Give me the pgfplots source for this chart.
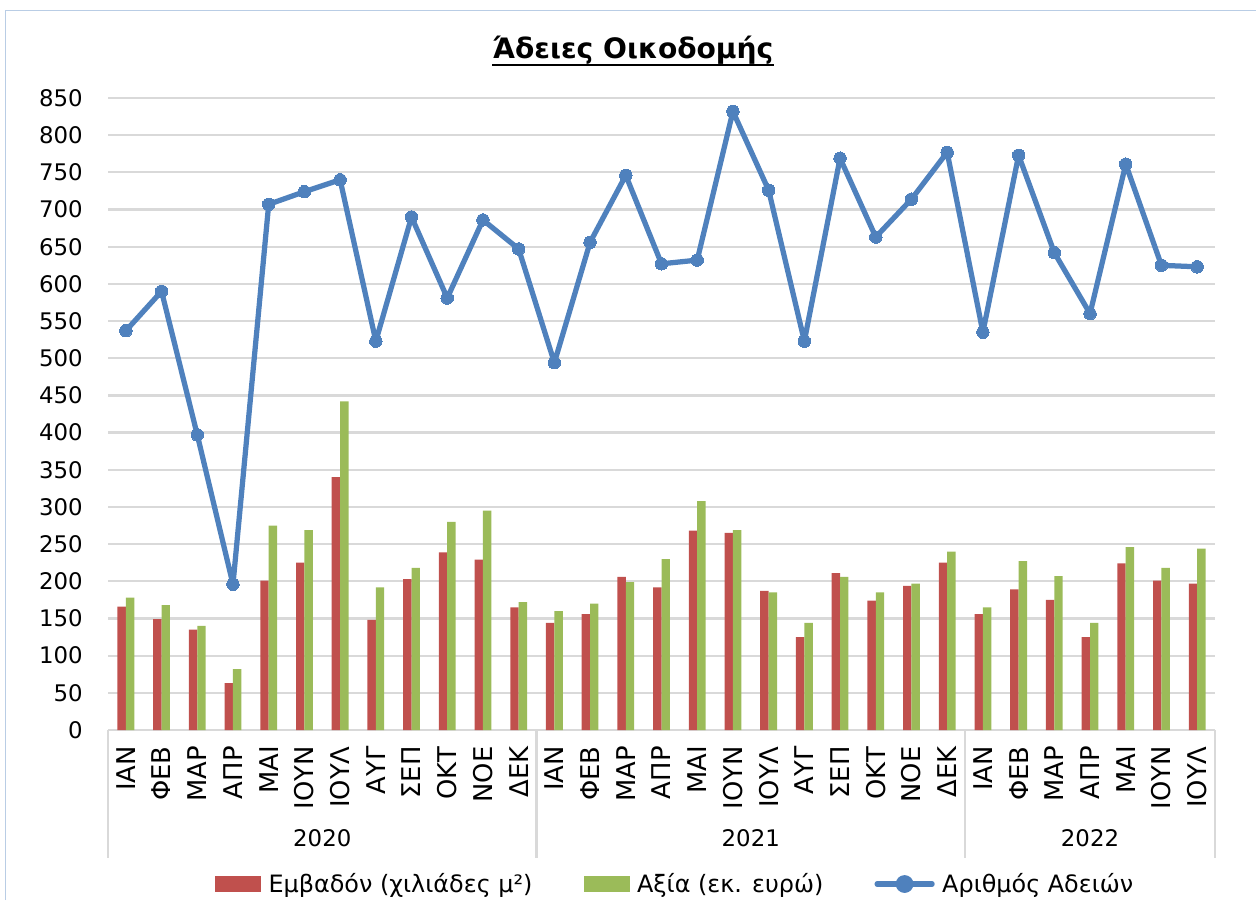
\documentclass[border=0pt]{standalone}
\usepackage{fontspec}
\setmainfont{DejaVu Sans}
\usepackage{pgfplots}
\usepackage{pgfplotstable}
\pgfplotsset{compat=1.18}
\definecolor{cred}{HTML}{C0504D}
\definecolor{cgreen}{HTML}{9BBB59}
\definecolor{cblue}{HTML}{4F81BD}
\definecolor{gridgray}{HTML}{D9D9D9}
\definecolor{borderblue}{HTML}{B9CDE5}
\newcommand{\f}{\fontsize{13}{15.6}\selectfont}
\newcommand{\fm}{\fontsize{14.7}{17}\selectfont}
\pgfplotstableread{
x area value count
0 166 178 537
1 149 168 590
2 135 140 397
3 63 82 196
4 201 275 707
5 225 269 724
6 340 442 740
7 148 192 523
8 203 218 690
9 239 280 581
10 229 295 686
11 165 172 647
12 144 160 494
13 156 170 656
14 206 199 746
15 192 230 627
16 268 308 632
17 265 269 832
18 187 185 726
19 125 144 523
20 211 206 769
21 174 185 663
22 194 197 714
23 225 240 777
24 156 165 535
25 189 227 773
26 175 207 642
27 125 144 560
28 224 246 761
29 201 218 625
30 197 244 623
}\data
\begin{document}
\begin{tikzpicture}
\path[use as bounding box] (0,0) rectangle (251.2mm,180mm);
\draw[borderblue, line width=0.35mm] (1.1mm,0) -- (1.1mm,177.9mm) -- (251.2mm,177.9mm);
\node[inner sep=0, anchor=base, font=\fontsize{16}{19}\selectfont\bfseries] (t) at (126.6mm,168.2mm) {Άδειες Οικοδομής};
\draw[line width=0.55mm] ([yshift=-1.2mm]t.base west) -- ([yshift=-1.2mm]t.base east);
\begin{axis}[
  at={(21.6mm,34mm)}, anchor=south west,
  scale only axis, width=221.4mm, height=126.4mm,
  xmin=-0.5, xmax=30.5, ymin=0, ymax=850,
  ytick={0,50,...,850},
  xtick={0,...,30},
  xticklabels={ΙΑΝ,ΦΕΒ,ΜΑΡ,ΑΠΡ,ΜΑΙ,ΙΟΥΝ,ΙΟΥΛ,ΑΥΓ,ΣΕΠ,ΟΚΤ,ΝΟΕ,ΔΕΚ,ΙΑΝ,ΦΕΒ,ΜΑΡ,ΑΠΡ,ΜΑΙ,ΙΟΥΝ,ΙΟΥΛ,ΑΥΓ,ΣΕΠ,ΟΚΤ,ΝΟΕ,ΔΕΚ,ΙΑΝ,ΦΕΒ,ΜΑΡ,ΑΠΡ,ΜΑΙ,ΙΟΥΝ,ΙΟΥΛ},
  xticklabel style={yshift=-3.2mm, rotate=90, anchor=east, font=\fm, inner sep=0pt},
  yticklabel style={font=\f, anchor=east, inner sep=0pt, xshift=-5mm},
  /pgf/number format/assume math mode=true,
  major tick length=0pt,
  ymajorgrids, grid style={gridgray, line width=0.45mm},
  axis x line*=bottom, axis y line*=left,
  x axis line style={gridgray, line width=0.45mm, -},
  y axis line style={draw=none},
  ybar=0pt, bar width=1.68mm,
  clip=false,
  legend style={at={(0.513,-0.2437)}, anchor=center, draw=none, fill=none,
    legend columns=3, font=\fontsize{13.6}{16}\selectfont, inner sep=0pt,
    /tikz/every odd column/.append style={column sep=0.8mm},
    /tikz/every even column/.append style={column sep=9.5mm}},
  legend cell align=left,
]
\addplot[draw=none, fill=cred,
  legend image code/.code={\fill[cred] (0mm,-1.6mm) rectangle (9.2mm,1.6mm);}]
  table[x=x, y=area] {\data};
\addlegendentry{Εμβαδόν (χιλιάδες μ²)}
\addplot[draw=none, fill=cgreen,
  legend image code/.code={\fill[cgreen] (0mm,-1.6mm) rectangle (9.2mm,1.6mm);}]
  table[x=x, y=value] {\data};
\addlegendentry{Αξία (εκ. ευρώ)}
\addplot[sharp plot, cblue, line width=1.05mm, line join=round, line cap=round, mark=*, mark size=1.25mm,
  mark options={fill=cblue, draw=cblue, line width=0pt},
  legend image code/.code={\draw[cblue, line width=1.05mm] (0mm,0mm) -- (11mm,0mm); \fill[cblue] (5.5mm,0mm) circle (1.25mm);}]
  table[x=x, y=count] {\data};
\addlegendentry{Αριθμός Αδειών}
\foreach \xx in {-0.5,11.5,23.5,30.5} {
  \edef\tmp{\noexpand\draw[gridgray, line width=0.45mm] (axis cs:\xx,0) -- ++(0pt,-25.6mm);}\tmp
}
\node[font=\f] at ([yshift=-21.6mm]axis cs:5.5,0) {2020};
\node[font=\f] at ([yshift=-21.6mm]axis cs:17.5,0) {2021};
\node[font=\f] at ([yshift=-21.6mm]axis cs:27,0) {2022};
\end{axis}
\end{tikzpicture}
\end{document}
